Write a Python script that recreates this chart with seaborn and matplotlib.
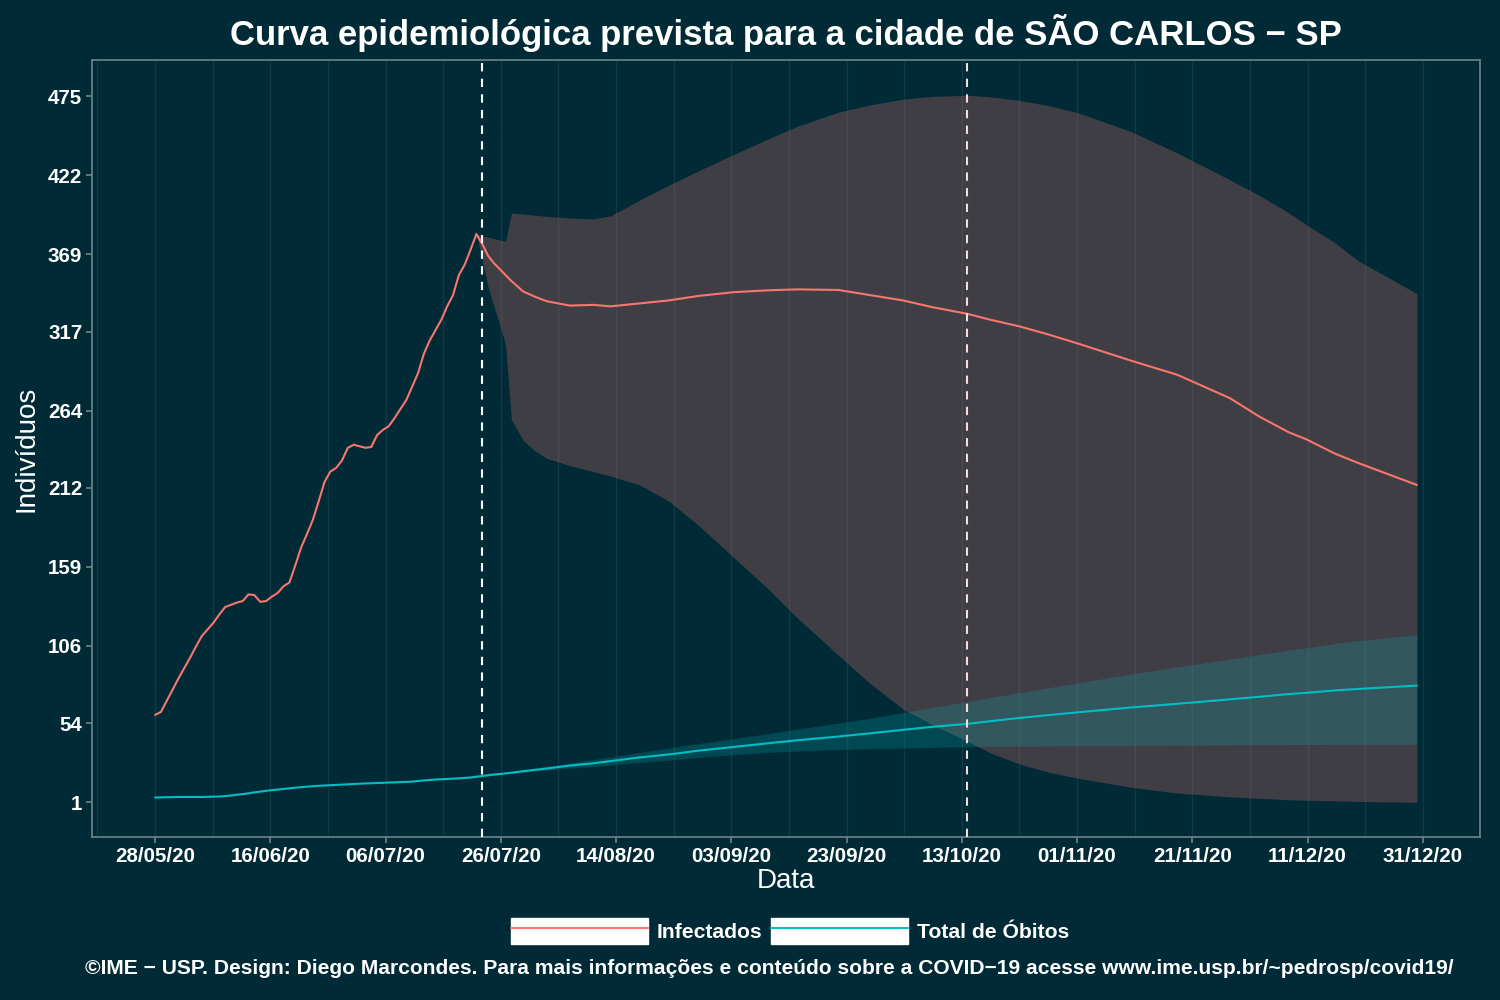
import pandas as pd
import matplotlib
matplotlib.use("Agg")
import matplotlib.pyplot as plt
from matplotlib.patches import Patch
from matplotlib.lines import Line2D
from matplotlib.legend_handler import HandlerTuple
import seaborn as sns

BG = "#002b36"
RED = "#F8766D"
CYAN = "#00BFC4"

# observed daily values, 28/05/20 .. 22/07/20
obs_start = "2020-05-28"
infectados_obs = [
    59.5, 61.5, 69, 76.5, 84, 91, 98, 105.5, 112.5, 117,
    121.5, 127, 132, 133.5, 135, 136, 140.5, 140, 135.5, 136,
    139, 141.5, 146, 148.5, 160, 172, 181, 190.5, 203, 216,
    223, 225.5, 230.5, 239, 241, 240, 239, 239.5, 247.5, 251,
    253.5, 259, 265, 271, 280, 289, 302, 311, 318, 325,
    334, 341.5, 355, 362, 372, 382.5,
]
obitos_obs = [
    4.0, 4.1, 4.2, 4.3, 4.4, 4.4, 4.4, 4.4, 4.4, 4.5,
    4.6, 4.7, 5.0, 5.4, 5.9, 6.3, 6.9, 7.5, 8.0, 8.5,
    9.0, 9.4, 9.8, 10.2, 10.6, 11.0, 11.3, 11.6, 11.9, 12.1,
    12.3, 12.5, 12.7, 12.9, 13.1, 13.3, 13.5, 13.6, 13.8, 13.9,
    14.1, 14.2, 14.4, 14.5, 14.7, 15.1, 15.5, 15.8, 16.1, 16.3,
    16.5, 16.7, 16.9, 17.2, 17.5, 18.0,
]

# forecast
prev_datas = [
    "2020-07-22", "2020-07-23", "2020-07-24", "2020-07-25", "2020-07-26", "2020-07-27",
    "2020-07-28", "2020-07-30", "2020-08-01", "2020-08-03", "2020-08-07", "2020-08-11",
    "2020-08-14", "2020-08-19", "2020-08-24", "2020-08-29", "2020-09-04",
    "2020-09-10", "2020-09-15", "2020-09-22", "2020-09-27", "2020-10-03",
    "2020-10-08", "2020-10-14", "2020-10-18", "2020-10-23", "2020-10-28",
    "2020-11-02", "2020-11-11", "2020-11-19", "2020-11-28", "2020-12-03",
    "2020-12-08", "2020-12-11", "2020-12-16", "2020-12-20", "2020-12-30",
]
inf_prev = [
    382.5, 376, 368, 363, 359, 355, 351, 344, 340.5, 337.5, 334.5, 335,
    334, 336, 338, 341, 343.5, 344.8, 345.4, 345, 341.8, 338,
    333.5, 329, 325, 320.5, 315, 309, 297.6, 288, 272.3, 260,
    249.5, 244.8, 235, 228.7, 214,
]
inf_sup = [
    382.5, 381.5, 380.5, 379.5, 378.5, 377.6, 396.7, 396, 395.2, 394.4, 393.3, 392.7,
    394.8, 405.5, 415.5, 425, 436, 446.5, 455, 464.5, 469, 473.2,
    475, 475.8, 474.8, 472.3, 468.8, 464, 451.5, 437, 419, 408.5,
    397, 389, 376.5, 364.5, 342.5,
]
inf_inf = [
    382.5, 365, 347, 334, 322, 308, 258, 244, 237, 232, 227, 223,
    220, 214, 203, 187, 165.5, 144, 124.5, 99.5, 82, 63.5,
    53, 42, 34, 26.5, 21, 17, 11, 7, 4.5, 3.5,
    2.6, 2.2, 1.8, 1.4, 0.8,
]
obi_prev = [
    18, 18.5, 19, 19.4, 19.8, 20.2, 20.7, 21.7, 22.6, 23.5, 25.5, 27,
    28.5, 31, 33, 35.5, 38, 40.5, 42.5, 45, 47, 49.5,
    51.5, 53.5, 55.3, 57.5, 59.4, 61.3, 64.5, 67, 70, 71.7,
    73.5, 74.3, 76, 77, 79.2,
]
obi_sup = [
    18, 18.6, 19.3, 19.8, 20.3, 20.8, 21.4, 22.6, 23.8, 25, 27.3, 29.5,
    31.2, 34.3, 37.3, 40.3, 43.5, 47, 50, 54, 57, 61,
    64.5, 68.4, 71.2, 74.5, 77.8, 81, 87, 91.8, 97, 100,
    103, 104.5, 107.5, 109.5, 113.3,
]
obi_inf = [
    18, 18.4, 18.8, 19.2, 19.5, 19.8, 20.2, 21, 21.8, 22.5, 23.8, 24.8,
    25.8, 27.5, 29.2, 31, 32.8, 34.4, 35.4, 36.3, 36.8, 37.3,
    37.7, 38.2, 38.4, 38.5, 38.7, 38.8, 39, 39.2, 39.4, 39.5,
    39.6, 39.6, 39.7, 39.7, 39.8,
]

y_ticks = [1, 54, 106, 159, 212, 264, 317, 369, 422, 475]
marcos = ["2020-07-23", "2020-10-14"]

obs = pd.DataFrame({
    "data": pd.date_range(obs_start, periods=len(infectados_obs), freq="D"),
    "Infectados": infectados_obs,
    "Óbitos": obitos_obs,
})
prev = pd.DataFrame({
    "data": pd.to_datetime(prev_datas),
    "inf": inf_prev, "inf_lo": inf_inf, "inf_hi": inf_sup,
    "obi": obi_prev, "obi_lo": obi_inf, "obi_hi": obi_sup,
})

sns.set_theme(style="dark", rc={
    "axes.facecolor": BG, "figure.facecolor": BG,
    "axes.edgecolor": "#6e8488", "axes.linewidth": 1.2,
    "text.color": "white", "axes.labelcolor": "white",
    "xtick.color": "white", "ytick.color": "white",
})
plt.rcParams["font.family"] = ["Liberation Sans", "DejaVu Sans"]

fig, ax = plt.subplots(figsize=(15, 10), dpi=100)
fig.subplots_adjust(left=92 / 1500, right=1480 / 1500, top=1 - 60 / 1000, bottom=1 - 837 / 1000)

# x ticks like ggplot: 12 evenly spaced breaks
ticks = pd.date_range("2020-05-28", "2020-12-31", periods=12)
step = ticks[1] - ticks[0]
minor = [ticks[0] - step / 2] + [t + step / 2 for t in ticks[:-1]]
for t in list(ticks) + minor:
    ax.axvline(t, color="white", alpha=0.07, lw=1, zorder=0)

ax.fill_between(prev["data"], prev["inf_lo"], prev["inf_hi"],
                color="#a05d5e", alpha=0.4, lw=0, zorder=1)
ax.fill_between(prev["data"], prev["obi_lo"], prev["obi_hi"],
                color=CYAN, alpha=0.2, lw=0, zorder=2)

sns.lineplot(data=obs, x="data", y="Infectados", color=RED, lw=1.5, ax=ax, zorder=3)
sns.lineplot(data=prev, x="data", y="inf", color=RED, lw=1.5, ax=ax, zorder=3)
sns.lineplot(data=obs, x="data", y="Óbitos", color=CYAN, lw=1.5, ax=ax, zorder=3)
sns.lineplot(data=prev, x="data", y="obi", color=CYAN, lw=1.5, ax=ax, zorder=3)

ax.axvline(pd.Timestamp(marcos[0]), color="white", lw=1.5, ls=(0, (4, 3.5)), zorder=4)
ax.axvline(pd.Timestamp(marcos[1]), color="#f3dede", lw=1.5, ls=(0, (4, 3.5)), zorder=4)

x0 = pd.Timestamp("2020-05-28")
x1 = pd.Timestamp("2020-12-30")
pad = (x1 - x0) * 0.05
ax.set_xlim(x0 - pad, x1 + pad)
ax.set_ylim(-22.5, 499.5)

ax.set_xticks(ticks)
ax.set_xticklabels([t.strftime("%d/%m/%y") for t in ticks], fontsize=14.8, fontweight="bold")
ax.set_yticks(y_ticks)
ax.set_yticklabels([str(v) for v in y_ticks], fontsize=14.8, fontweight="bold")
ax.tick_params(axis="both", length=4, width=1.2, color="#6e8488", pad=3, bottom=True, left=True)
ax.grid(False)
for s in ax.spines.values():
    s.set_visible(True)
    s.set_color("#6e8488")

ax.set_xlabel("Data", fontsize=20, labelpad=2)
ax.set_ylabel("Indivíduos", fontsize=20, labelpad=6)

fig.text(786 / 1500, 1 - 33 / 1000, "Curva epidemiológica prevista para a cidade de SÃO CARLOS − SP",
         ha="center", va="center", fontsize=25, fontweight="bold", color="white")

handles = [
    (Patch(facecolor="white", edgecolor="white"), Line2D([], [], color=RED, lw=1.5)),
    (Patch(facecolor="white", edgecolor="white"), Line2D([], [], color=CYAN, lw=1.5)),
]
leg = fig.legend(handles, ["Infectados", "Total de Óbitos"], loc="center",
                 bbox_to_anchor=(790 / 1500, 1 - 931 / 1000), ncol=2, frameon=False,
                 handler_map={tuple: HandlerTuple(ndivide=1)},
                 handlelength=6.5, handleheight=1.45, handletextpad=0.4,
                 columnspacing=0.4, prop={"size": 15.2, "weight": "bold"})
for txt in leg.get_texts():
    txt.set_color("white")

fig.text(769 / 1500, 1 - 968 / 1000,
         "©IME − USP. Design: Diego Marcondes. Para mais informações e conteúdo sobre a COVID−19 acesse www.ime.usp.br/~pedrosp/covid19/",
         ha="center", va="center", fontsize=15.1, fontweight="bold", color="white")

fig.savefig("out.png", dpi=100, facecolor=BG)
